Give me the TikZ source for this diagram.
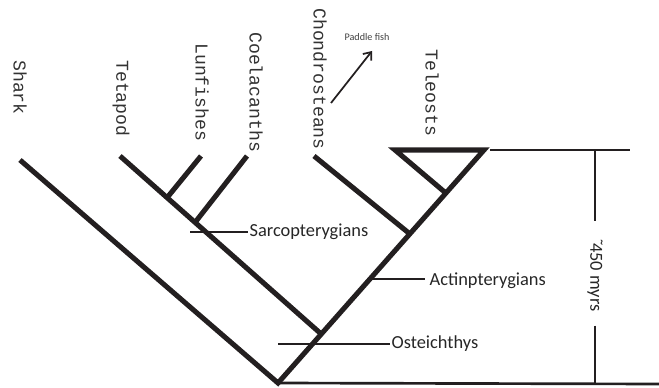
\documentclass[tikz,border=0pt]{standalone}
\usepackage{fontspec}
\setmainfont{Carlito}
\newfontfamily\typewriter{Liberation Mono}
\usetikzlibrary{arrows.meta, positioning, calc}
\definecolor{ink}{HTML}{231F20}

\begin{document}
\begin{tikzpicture}[x=0.75pt, y=-0.75pt, ink,
    branch/.style={line width=3.8pt},
    tick/.style={line width=2pt},
    taxon/.style={rotate=-90, anchor=west, inner sep=0pt, text=black!80,
        font=\typewriter\fontsize{13.6}{16}\selectfont},
    clade/.style={anchor=west, inner sep=1pt, text=black!85,
        font=\fontsize{13.8}{16}\selectfont}]
    \useasboundingbox (0,0) rectangle (659,388);

    % Tree joints
    \coordinate (root) at (278,383);
    \coordinate (top) at (484,150);
    \coordinate (shark) at (20,160);
    \coordinate (tetra) at (120,156);
    \coordinate (tetraJ) at ($(root)!0.21!(top)$);
    \coordinate (lung) at (201,156);
    \coordinate (lungJ) at ($(tetra)!0.234!(tetraJ)$);
    \coordinate (coel) at (247,156);
    \coordinate (coelJ) at ($(tetra)!0.373!(tetraJ)$);
    \coordinate (chon) at (314,156);
    \coordinate (chonJ) at ($(root)!0.64!(top)$);
    \coordinate (tele) at (395,150);
    \coordinate (teleJ) at ($(root)!0.815!(top)$);

    % Branches
    \draw[branch] (shark) -- (root) -- (top) -- (tele) -- (teleJ);
    \draw[branch] (tetra) -- (tetraJ);
    \draw[branch] (lung) -- (lungJ);
    \draw[branch] (coel) -- (coelJ);
    \draw[branch] (chon) -- (chonJ);

    % Taxa
    \node[taxon] (sharkT) at (20,60) {Shark};
    \node[taxon] (tetraT) at (121,60) {Tetapod};
    \node[taxon] (lungT) at (202,43) {Lunfishes};
    \node[taxon] (coelT) at (256,32) {Coelacanths};
    \node[taxon] (chonT) at (320,8) {Chondrosteans};
    \node[taxon] (teleT) at (432,49) {Teleosts};

    % Paddle fish
    \node[font=\fontsize{7.6}{9}\selectfont, text=black!75] (paddle) at (367,37) {Paddle fish};
    \coordinate (arrowS) at (331,103);
    \coordinate (arrowE) at (372,51);
    \draw[line width=1.3pt, -{Straight Barb[length=5pt, width=8pt]}] (arrowS) -- (arrowE);

    % Clades
    \coordinate (sarcoL) at (190,232);
    \node[clade] (sarco) at (248,232) {Sarcopterygians};
    \draw[tick] (sarcoL) -- (sarco.west);
    \coordinate (actinL) at (367,279);
    \node[clade] (actin) at (428,281) {Actinpterygians};
    \draw[tick] (actinL) -- (425,279);
    \coordinate (osteL) at (278,344);
    \node[clade] (oste) at (390,344) {Osteichthys};
    \draw[tick] (osteL) -- (oste.west);

    % Time scale
    \coordinate (baseR) at (659,384);
    \coordinate (topL) at (490,150);
    \coordinate (topR) at (630,150);
    \draw[tick] (root) -- (baseR);
    \draw[tick] (topL) -- (topR);
    \node[rotate=-90, inner sep=0pt, text=black!85, font=\fontsize{13.8}{16}\selectfont]
        (age) at (595,275) {\symbol{"02DC}\kern-0.2em450 myrs};
    \draw[tick] (595,150) -- ($(age.west)+(0,-17)$);
    \draw[tick] ($(age.east)+(0,14)$) -- (595,384);
\end{tikzpicture}
\end{document}
